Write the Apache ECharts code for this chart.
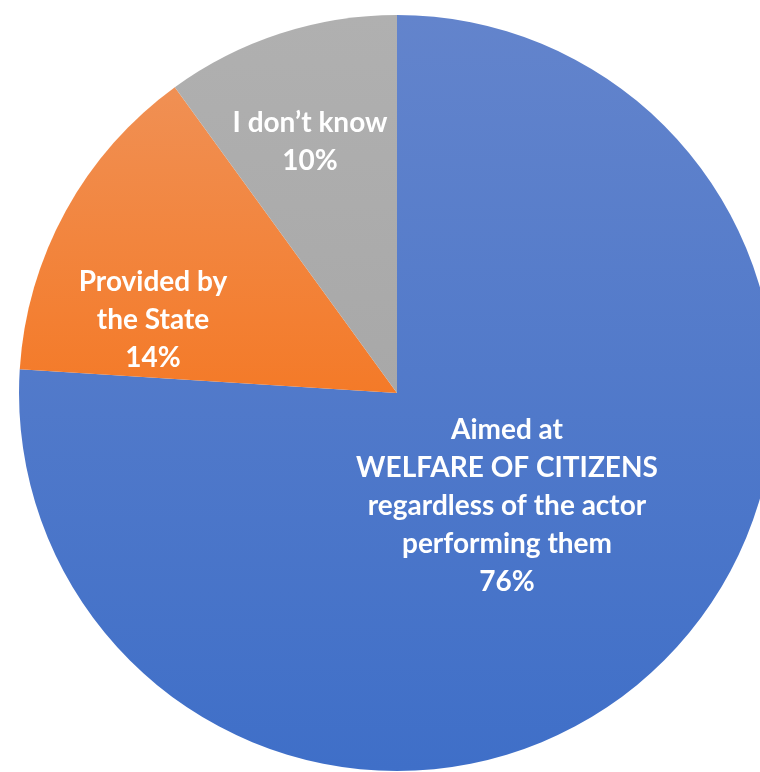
<!DOCTYPE html>
<html>
<head>
<meta charset="utf-8">
<script src="https://cdn.jsdelivr.net/npm/echarts@6/dist/echarts.min.js"></script>
<style>html,body{margin:0;padding:0;background:#fff;}#c{width:760px;height:772px;}</style>
</head>
<body>
<div id="c"></div>
<script>
const categories = ["Aimed at\nWELFARE OF CITIZENS\nregardless of the actor\nperforming them", "Provided by\nthe State", "I don\u2019t know"];
const values = [76, 14, 10];
const labelPos = [[507, 506], [153, 320], [310, 142]];
const colorsTop = ["#6384cc", "#f09054", "#b0b0b0"];
const colorsBottom = ["#3f6fc8", "#f47a28", "#a8a8a8"];

const chart = echarts.init(document.getElementById('c'), null, {renderer: 'canvas'});
const data = categories.map((n, i) => ({
  name: n, value: values[i],
  itemStyle: {color: new echarts.graphic.LinearGradient(0, 0, 0, 1, [
    {offset: 0, color: colorsTop[i]}, {offset: 1, color: colorsBottom[i]}])}
}));
chart.setOption({
  animation: false,
  series: [{
    type: 'pie',
    center: [397, 393],
    radius: [0, 378],
    startAngle: 90,
    clockwise: true,
    data: data,
    itemStyle: {borderWidth: 0},
    label: {
      show: true,
      position: 'inside',
      formatter: '{b}\n{c}%',
      color: '#fff',
      fontFamily: 'Lato',
      fontWeight: 'bold',
      fontSize: 28,
      lineHeight: 38,
      align: 'center'
    },
    labelLine: {show: false},
    labelLayout: function (p) {
      const pos = labelPos[p.dataIndex];
      return {x: pos[0], y: pos[1], align: 'center', verticalAlign: 'middle'};
    },
    emphasis: {disabled: true}
  }]
});
</script>
</body>
</html>
